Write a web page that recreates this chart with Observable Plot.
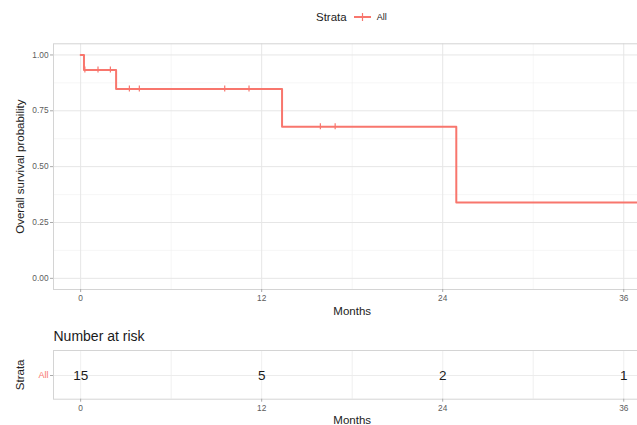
<!DOCTYPE html>
<html>
<head>
<meta charset="utf-8">
<script src="https://cdn.jsdelivr.net/npm/d3@7"></script>
<script src="https://cdn.jsdelivr.net/npm/@observablehq/plot@0.6"></script>
<style>
html, body { margin: 0; padding: 0; overflow: hidden; background: #fff; }
#wrap { position: relative; width: 637px; height: 425px; overflow: hidden; font-family: "Liberation Sans", Arial, sans-serif; }
#legend { position: absolute; left: 316px; top: 8px; height: 18px; display: flex; align-items: center; color: #222; }
#legend .title { font-size: 11.5px; margin-right: 7px; }
#legend .lab { font-size: 9px; margin-left: 6px; }
#km { position: absolute; left: 0; top: 0; width: 660px; }
#risk { position: absolute; left: 0; top: 320px; width: 660px; }
#km svg, #risk svg { max-width: none !important; }
</style>
</head>
<body>
<div id="wrap">
  <div id="legend"></div>
  <div id="km"></div>
  <div id="risk"></div>
</div>
<script>
// ---- data ----
const eventTimes = [0, 0.22, 2.35, 13.35, 24.9];
const survival = [1, 0.933, 0.848, 0.679, 0.339];
const lastFollowUp = 38;
const censorTimes = [0.28, 1.15, 1.97, 3.23, 3.89, 9.55, 11.16, 15.89, 16.87];
const strata = ["All"];
const riskTimes = [0, 12, 24, 36];
const riskCounts = [15, 5, 2, 1];
const xTicks = [0, 12, 24, 36];
const xMinor = [6, 18, 30];
const yTicks = [0, 0.25, 0.5, 0.75, 1];
const yMinor = [0.125, 0.375, 0.625, 0.875];

const RED = "#F8766D";
const FONT = "Liberation Sans, Arial, sans-serif";
const TICK = "#5c5c5c";
const xDomain = [-1.8, 37.8];

// step curve
const curve = eventTimes.map((t, i) => ({t, s: survival[i]}));
curve.push({t: lastFollowUp, s: survival[survival.length - 1]});
function survAt(t) {
  let s = survival[0];
  eventTimes.forEach((e, i) => { if (e <= t) s = survival[i]; });
  return s;
}
const censors = censorTimes.map(t => ({t, s: survAt(t)}));
const riskTable = riskTimes.map((t, i) => ({t, n: riskCounts[i], strata: strata[0]}));

// ---- legend ----
const legend = document.getElementById("legend");
legend.innerHTML = `<span class="title">Strata</span>` +
  `<svg width="17" height="10"><line x1="0" x2="17" y1="5" y2="5" stroke="${RED}" stroke-width="2"/>` +
  `<line x1="8.5" x2="8.5" y1="1" y2="9" stroke="${RED}" stroke-width="1.2"/></svg>` +
  `<span class="lab">${strata[0]}</span>`;

const baseStyle = {fontFamily: FONT, background: "transparent", overflow: "visible", maxWidth: "none"};

// ---- survival plot ----
const km = Plot.plot({
  width: 660, height: 320,
  marginLeft: 53, marginRight: 9.6, marginTop: 43.3, marginBottom: 31,
  style: baseStyle,
  x: {domain: xDomain},
  y: {domain: [-0.05, 1.05]},
  marks: [
    Plot.gridX(xMinor, {stroke: "#f0f0f0", strokeOpacity: 1, strokeWidth: 0.6}),
    Plot.gridY(yMinor, {stroke: "#f0f0f0", strokeOpacity: 1, strokeWidth: 0.6}),
    Plot.gridX(xTicks, {stroke: "#e6e6e6", strokeOpacity: 1, strokeWidth: 1}),
    Plot.gridY(yTicks, {stroke: "#e6e6e6", strokeOpacity: 1, strokeWidth: 1}),
    Plot.frame({stroke: "#d4d4d4"}),
    Plot.axisX(xTicks, {tickSize: 3, tickPadding: 3, stroke: "#aaa", fill: TICK, fontSize: 8.3, label: null}),
    Plot.axisY(yTicks, {tickSize: 3, tickPadding: 2, stroke: "#aaa", fill: TICK, fontSize: 8.3, label: null, tickFormat: d3.format(".2f")}),
    Plot.line(curve, {x: "t", y: "s", curve: "step-after", stroke: RED, strokeWidth: 2}),
    Plot.ruleX(censors, {x: "t", y1: "s", y2: "s", insetTop: -3, insetBottom: -3, stroke: RED, strokeWidth: 1.2}),
    Plot.text(["Months"], {text: d => d, frameAnchor: "bottom", lineAnchor: "middle", textAnchor: "middle", dy: 22, fontSize: 11.5, fill: "#222"}),
    Plot.text(["Overall survival probability"], {text: d => d, frameAnchor: "left", textAnchor: "middle", lineAnchor: "middle", dx: -33, rotate: -90, fontSize: 11.5, fill: "#222"})
  ]
});
document.getElementById("km").appendChild(km);

// ---- risk table ----
const risk = Plot.plot({
  width: 660, height: 105,
  marginLeft: 53, marginRight: 9.6, marginTop: 30, marginBottom: 26.3,
  style: baseStyle,
  x: {domain: xDomain},
  y: {domain: strata, type: "band"},
  marks: [
    Plot.gridX([...xTicks, ...xMinor], {stroke: "#ececec", strokeOpacity: 1, strokeWidth: 0.8}),
    Plot.gridY(strata, {stroke: "#ececec", strokeOpacity: 1, strokeWidth: 1}),
    Plot.frame({stroke: "#d4d4d4"}),
    Plot.axisX(xTicks, {tickSize: 3, tickPadding: 3, stroke: "#aaa", fill: TICK, fontSize: 8.3, label: null}),
    Plot.axisY(strata, {tickSize: 3, tickPadding: 2, stroke: "#aaa", fill: RED, fontSize: 9, label: null}),
    Plot.text(riskTable, {x: "t", y: "strata", text: "n", fontSize: 13.5, fill: "#1a1a1a"}),
    Plot.text(["Number at risk"], {text: d => d, frameAnchor: "top-left", lineAnchor: "middle", textAnchor: "start", dy: -14.3, fontSize: 14, fill: "#1a1a1a"}),
    Plot.text(["Strata"], {text: d => d, frameAnchor: "left", textAnchor: "middle", lineAnchor: "middle", dx: -33, rotate: -90, fontSize: 11.5, fill: "#222"}),
    Plot.text(["Months"], {text: d => d, frameAnchor: "bottom", lineAnchor: "middle", textAnchor: "middle", dy: 21.3, fontSize: 11.5, fill: "#222"})
  ]
});
document.getElementById("risk").appendChild(risk);
</script>
</body>
</html>
